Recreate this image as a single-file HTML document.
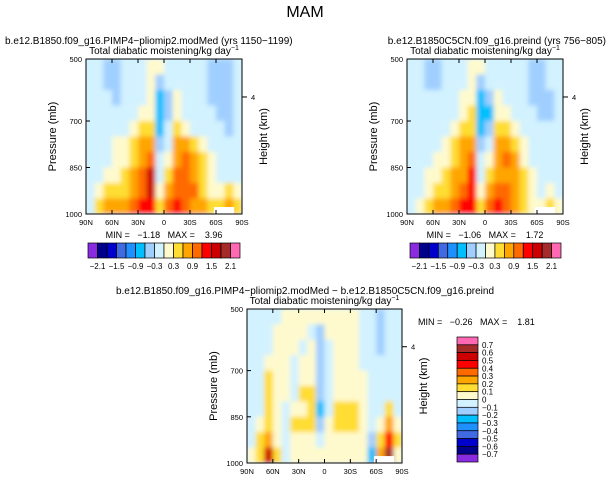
<!DOCTYPE html>
<html><head><meta charset="utf-8"><style>
body{margin:0;background:#fff;}
svg{display:block;font-family:"Liberation Sans",sans-serif;}
text{white-space:pre;}
</style></head><body>
<svg id="fig" width="611" height="482" viewBox="0 0 611 482">
<defs>
<filter id="soft" x="-5%" y="-5%" width="110%" height="110%"><feGaussianBlur stdDeviation="2.4"/></filter>
<clipPath id="c1"><rect x="86" y="59" width="156" height="155"/></clipPath>
<clipPath id="c2"><rect x="407" y="59" width="156" height="155"/></clipPath>
<clipPath id="c3"><rect x="247" y="309" width="155" height="154"/></clipPath>
</defs>
<text x="305" y="17" font-size="16" text-anchor="middle">MAM</text>
<g id="root"></g>
</svg>
<script>
// ---- data ----
const latLabels = ["90N","60N","30N","0","30S","60S","90S"];
const presTicks = [500,700,850,1000];
const topLevels = [-2.1,-1.8,-1.5,-1.2,-0.9,-0.6,-0.3,0,0.3,0.6,0.9,1.2,1.5,1.8,2.1];
const topLevelLabels = ["-2.1","-1.5","-0.9","-0.3","0.3","0.9","1.5","2.1"];
const diffLevels = [-0.7,-0.6,-0.5,-0.4,-0.3,-0.2,-0.1,0,0.1,0.2,0.3,0.4,0.5,0.6,0.7];
const diffLevelLabels = ["0.7","0.6","0.5","0.4","0.3","0.2","0.1","0","-0.1","-0.2","-0.3","-0.4","-0.5","-0.6","-0.7"];
const colors = ["#8a2be2","#00008b","#0000cd","#4169e1","#1e90ff","#00bfff","#a0cfff","#d2f2ff","#fffacd","#ffdd33","#ffa500","#ff6a00","#ff0000","#cc0000","#a52a2a","#ff69b4"];
// rows top(500mb)->bottom(1000mb), cols 85N..85S
const fieldPlio = [
[-.1,-.1,-.4,-.4,-.1,-.1,-.1,.1,.1,-.1,-.1,-.1,-.1,-.1,-.4,-.4,-.4,-.1],
[-.1,-.1,-.4,-.4,-.1,-.1,-.1,.1,-.4,-.1,-.1,-.1,-.1,-.1,-.4,-.4,-.4,-.1],
[-.1,-.1,-.1,-.4,-.1,-.1,-.1,.1,-.7,-.4,.1,-.1,-.1,-.1,-.4,-.4,-.4,-.1],
[-.1,-.1,-.1,-.1,-.1,-.1,.1,.1,-.9,-.4,.1,-.1,-.1,-.1,-.1,-.4,-.4,-.1],
[-.1,-.1,-.1,-.1,-.1,.1,.4,.4,-.9,-.1,.4,.1,-.1,-.1,-.1,-.1,-.4,-.1],
[-.1,-.1,-.1,.1,.1,.4,.7,.7,-.4,-.1,.7,.7,.4,.1,-.1,-.1,-.1,-.1],
[-.1,-.1,-.1,.1,.1,.4,.7,1.0,-.1,.1,.7,1.0,.7,.4,.1,-.1,-.1,-.1],
[-.1,-.1,.1,.1,.4,.7,1.0,1.6,-.1,.4,1.0,1.0,.7,.4,.1,-.1,-.1,-.1],
[-.1,.1,.4,.4,.4,.7,1.0,1.6,.1,.7,1.0,1.0,1.0,.4,.1,.1,.4,.1],
[-.1,.4,.7,.7,.7,1.0,1.4,1.4,.4,1.0,1.4,1.0,.7,.7,.4,.4,.7,.4]];
const fieldPreind = [
[-.1,-.1,-.4,-.4,-.1,-.1,-.1,.1,.1,-.1,-.1,-.1,-.1,-.1,-.4,-.4,-.1,-.1],
[-.1,-.1,-.4,-.4,-.1,-.1,-.1,.1,-.4,-.1,-.1,-.1,-.1,-.1,-.4,-.4,-.1,-.1],
[-.1,-.1,-.1,-.1,-.1,-.1,.1,.1,-.7,-.4,.1,-.1,-.1,-.1,-.4,-.4,-.4,-.1],
[-.1,-.1,-.1,-.1,-.1,-.1,.1,.4,-.9,-.7,.1,.1,-.1,-.1,-.1,-.4,-.4,-.1],
[-.1,-.1,-.1,-.1,-.1,.1,.4,.4,-.7,-.4,.4,.4,.1,-.1,-.1,-.1,-.1,-.1],
[-.1,-.1,-.1,-.1,.1,.4,.7,.7,-.4,-.1,.7,.7,.4,.1,-.1,-.1,-.1,-.1],
[-.1,-.1,-.1,.1,.1,.4,.7,1.0,-.1,.1,.7,1.0,.7,.1,-.1,-.1,-.1,-.1],
[-.1,-.1,.1,.1,.4,.7,.7,1.3,-.1,.4,.7,.7,.7,.4,.1,-.1,-.1,-.1],
[-.1,-.1,.1,.4,.4,.7,1.0,1.3,.1,.7,1.0,1.0,.7,.4,.1,-.1,.1,-.1],
[-.1,.1,.4,.7,.7,1.0,1.3,1.3,.4,1.0,1.3,1.0,.7,.4,.1,.1,.4,.1]];
const fieldDiff = [
[-.05,-.05,-.05,-.05,.05,.05,.05,.05,.05,.05,.05,.05,.05,-.05,-.05,-.15,-.05,-.05],
[-.05,-.05,-.05,.05,.05,.05,.05,-.05,-.15,.05,.05,.05,.05,-.05,-.05,-.15,-.05,-.05],
[-.05,-.05,-.05,.05,.05,.05,-.05,.05,-.15,-.05,.05,.05,.05,-.05,-.05,-.15,-.05,-.05],
[-.05,-.05,.05,.05,.05,-.05,.05,.05,-.15,-.05,.05,.05,.05,-.05,-.05,-.05,-.05,-.05],
[-.05,-.05,.15,.05,.05,-.05,.05,.05,-.15,-.05,.05,.05,.05,.05,-.05,-.05,-.05,-.05],
[-.05,-.05,.15,.05,.05,-.05,.15,.15,-.15,-.05,.05,.05,.05,.05,-.05,-.05,-.05,-.05],
[-.05,-.05,.15,.05,-.05,.05,.05,.15,-.25,-.05,.15,.15,.15,.05,-.05,-.05,.15,-.05],
[-.05,.05,.15,.05,-.05,.15,.15,.15,-.15,.05,.15,.15,.15,.05,-.05,.05,.25,.05],
[-.05,.15,.25,.05,-.05,.05,.05,.05,-.05,.05,.05,.05,.05,.05,-.15,.15,.45,.15],
[.05,.15,.55,.15,-.05,.05,.05,.05,.05,.05,.05,.05,.05,.05,-.25,.25,.65,.05]];

const NS="http://www.w3.org/2000/svg";
const root=document.getElementById('root');
function mk(tag,attrs,parent){const e=document.createElementNS(NS,tag);for(const k in attrs)e.setAttribute(k,attrs[k]);(parent||root).appendChild(e);return e;}
function colorFor(v,levels){let i=0;while(i<levels.length&&v>=levels[i])i++;return colors[i];}
function txt(x,y,s,size,anchor,parent,rot){const t=mk('text',{x:x,y:y,'font-size':size,'text-anchor':anchor||'start'},parent);if(rot)t.setAttribute('transform','rotate(-90 '+x+' '+y+')');t.textContent=s;return t;}

function panel(field,levels,x0,y0,w,h,clip,opts){
  const g=mk('g',{});
  
  
  const nC=field[0].length,nR=field.length;
  const xs=c=>x0+c*w/nC, ys=r=>y0+r*h/nR;
  const py=p=>y0+h*(p-500)/500;
  const cg=mk('g',{'clip-path':'url(#'+clip+')'},g);
  const fg=mk('g',{filter:'url(#soft)'},cg);
  mk('rect',{x:x0-5,y:y0-5,width:w+10,height:h+10,fill:colors[7]},fg);
  field.forEach((row,r)=>row.forEach((v,c)=>{
    const cell=mk('rect',{x:xs(c),y:ys(r),width:w/nC+0.6,height:h/nR+0.6,fill:colorFor(v,levels)},fg);
    
    
  }));
  mk('rect',{x:x0+w*0.82,y:y0+h*0.955,width:w*0.13,height:h*0.05,fill:'#fff'},cg);
  const fr=mk('rect',{x:x0,y:y0,width:w,height:h,fill:'none',stroke:'#000','stroke-width':1},g);
  
  
  latLabels.forEach((l,i)=>{const x=x0+i*w/6;mk('line',{x1:x,y1:y0+h,x2:x,y2:y0+h-4,stroke:'#000'},g);mk('line',{x1:x,y1:y0,x2:x,y2:y0+4,stroke:'#000'},g);
    const t=txt(x,y0+h+11,l,7.5,'middle',g);});
  presTicks.forEach(p=>{const y=py(p);mk('line',{x1:x0,y1:y,x2:x0+4,y2:y,stroke:'#000'},g);
    const t=txt(x0-4,y+3,String(p),7.5,'end',g);});
  const hy=y0+h*0.245;
  mk('line',{x1:x0+w,y1:hy,x2:x0+w+5,y2:hy,stroke:'#000'},g);
  txt(x0+w+9,hy+3,'4',7.5,'start',g);
  const yl=txt(x0-30,y0+h/2,'Pressure (mb)',11,'middle',g,true);
  const hl=txt(x0+w+25,y0+h/2,'Height (km)',11,'middle',g,true);
  const st=mk('text',{x:x0+w/2,y:y0-5,'font-size':10,'text-anchor':'middle'},g);
  st.innerHTML='Total diabatic moistening/kg day<tspan dy="-4" font-size="7">−1</tspan>';
  
  const tt=txt(opts.tx,y0-15,opts.title,10,opts.ta||'start',g);
  return g;
}
function hbar(x0,y0,w,h,g){
  const n=colors.length,bw=w/n;
  colors.forEach((c,i)=>{const b=mk('rect',{x:x0+i*bw,y:y0,width:bw,height:h,fill:c,stroke:'#000','stroke-width':0.7},g);});
  topLevelLabels.forEach((l,i)=>{txt(x0+bw*(1+2*i),y0+h+11,l.replace('-','−'),8,'middle',g);});
}
const p1=panel(fieldPlio,topLevels,86,59,156,155,'c1',{name:'panel-pliomip',title:'b.e12.B1850.f09_g16.PIMP4−pliomip2.modMed (yrs 1150−1199)',tx:5});
txt(164,238,'MIN =   −1.18   MAX =    3.96',9,'middle',p1);
hbar(88,243,152,15,p1);
const p2=panel(fieldPreind,topLevels,407,59,156,155,'c2',{name:'panel-preind',title:'b.e12.B1850C5CN.f09_g16.preind (yrs 756−805)',tx:606,ta:'end'});
txt(485,238,'MIN =   −1.06   MAX =    1.72',9,'middle',p2);
hbar(410,243,151,15,p2);
const p3=panel(fieldDiff,diffLevels,247,309,155,154,'c3',{name:'panel-difference',title:'b.e12.B1850.f09_g16.PIMP4−pliomip2.modMed − b.e12.B1850C5CN.f09_g16.preind',tx:305,ta:'middle'});
txt(418,325,'MIN =   −0.26   MAX =    1.81',9,'start',p3);
(function(){const x0=457,y0=337,w=21,h=125,n=colors.length,bh=h/n;
  for(let i=0;i<n;i++){const b=mk('rect',{x:x0,y:y0+i*bh,width:w,height:bh,fill:colors[n-1-i],stroke:'#000','stroke-width':0.7},p3);}
  diffLevelLabels.forEach((l,i)=>{txt(x0+w+4,y0+bh*(i+1)+3,l.replace('-','−'),8,'start',p3);});
})();
</script>
</body></html>
